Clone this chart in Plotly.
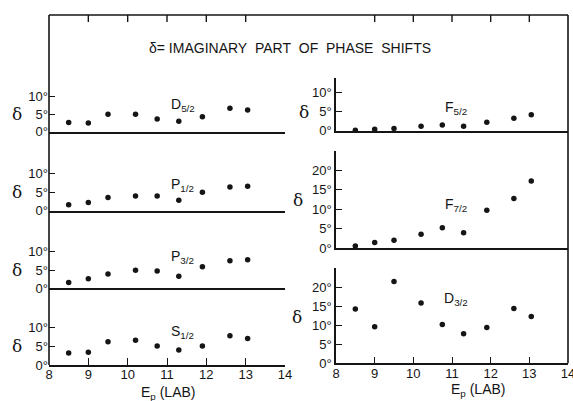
import plotly.graph_objects as go

W, H = 573, 401

# Proton lab energy (MeV) at which the phase shifts were evaluated
energy = [8.5, 9.0, 9.5, 10.2, 10.75, 11.3, 11.9, 12.6, 13.05]

# Imaginary part of the phase shift (degrees) for each partial wave
d52 = [2.6, 2.5, 5.0, 5.0, 3.6, 3.0, 4.3, 6.7, 6.2]
p12 = [1.6, 2.2, 3.6, 4.0, 4.0, 2.8, 5.0, 6.4, 6.6]
p32 = [1.6, 2.6, 3.9, 4.9, 4.7, 3.3, 5.9, 7.5, 7.8]
s12 = [3.2, 3.4, 6.2, 6.6, 5.1, 4.0, 5.1, 7.8, 7.1]
f52 = [0.1, 0.4, 0.6, 1.2, 1.5, 1.2, 2.2, 3.3, 4.2]
f72 = [0.5, 1.4, 2.0, 3.5, 5.2, 3.9, 9.7, 12.7, 17.2]
d32 = [14.3, 9.6, 21.5, 15.9, 10.2, 7.8, 9.4, 14.4, 12.3]

wave_labels = ["D<sub>5/2</sub>", "P<sub>1/2</sub>", "P<sub>3/2</sub>", "S<sub>1/2</sub>",
               "F<sub>5/2</sub>", "F<sub>7/2</sub>", "D<sub>3/2</sub>"]
x_ticks = [8, 9, 10, 11, 12, 13, 14]
small_ticks = [0, 5, 10]
large_ticks = [0, 5, 10, 15, 20]

INK = "#151515"
FONT = "Liberation Sans, Arial, sans-serif"

# panel layout: (values, column, zero-line pixel row, pixels per degree, y max,
#                y ticks, label position (E, deg), delta-symbol position (px x, deg))
panels = [
    (d52, "L", 131.7, 3.50, 12, small_ticks, (11.4, 7.7), (17, 5)),
    (p12, "L", 210.7, 3.70, 12, small_ticks, (11.4, 7.0), (17, 5)),
    (p32, "L", 288.3, 3.66, 12, small_ticks, (11.4, 8.6), (17, 5)),
    (s12, "L", 365.0, 3.75, 12, small_ticks, (11.4, 8.8), (17, 5)),
    (f52, "R", 130.7, 3.80, 14, small_ticks, (11.1, 6.1), (304, 5)),
    (f72, "R", 248.0, 3.90, 25, large_ticks, (11.1, 11.1), (298, 12.3)),
    (d32, "R", 363.3, 3.80, 25, large_ticks, (11.1, 16.8), (297, 12.2)),
]

X_LEFT = (49, 285)
X_RIGHT = (336, 568)
TOP_PX = 15


def px_x(p):
    return p / W


def px_y(p):
    return 1 - p / H


fig = go.Figure()
annotations = []
shapes = []

for i, (vals, col, zero, scale, ymax, yt, lab, dlt) in enumerate(panels, start=1):
    xa = "x" if i == 1 else f"x{i}"
    ya = "y" if i == 1 else f"y{i}"
    xkey = "xaxis" if i == 1 else f"xaxis{i}"
    ykey = "yaxis" if i == 1 else f"yaxis{i}"
    xr = X_LEFT if col == "L" else X_RIGHT
    bottom = i in (4, 7)

    fig.add_trace(go.Scatter(
        x=energy, y=vals, mode="markers", xaxis=xa, yaxis=ya,
        marker=dict(color=INK, size=5.5), showlegend=False, cliponaxis=False,
    ))

    fig.update_layout(**{
        xkey: dict(
            domain=[px_x(xr[0]), px_x(xr[1])], range=[8, 14], anchor=ya,
            showline=True, linecolor=INK, linewidth=1.6, showgrid=False, zeroline=False,
            tickmode="array", tickvals=x_ticks if bottom else [],
            ticks="inside" if bottom else "", ticklen=7, tickwidth=1.4, tickcolor=INK,
            showticklabels=bottom, ticklabelstandoff=-3, ticklabeloverflow="allow",
            tickfont=dict(family=FONT, size=13, color=INK), automargin=False,
        ),
        ykey: dict(
            domain=[px_y(zero), px_y(zero - ymax * scale)], range=[0, ymax], anchor=xa,
            showline=(col == "R"), linecolor=INK, linewidth=1.6, showgrid=False, zeroline=False,
            tickmode="array", tickvals=yt, ticktext=[f"{t}°" for t in yt],
            ticks="inside", ticklen=6, tickwidth=1.4, tickcolor=INK,
            ticklabeloverflow="allow",
            tickfont=dict(family=FONT, size=13, color=INK), automargin=False,
        ),
    })

    annotations.append(dict(
        x=lab[0], y=lab[1], xref=xa, yref=ya, text=wave_labels[i - 1], showarrow=False,
        font=dict(family=FONT, size=14, color=INK), xanchor="center", yanchor="middle",
    ))
    annotations.append(dict(
        x=px_x(dlt[0]), y=dlt[1], xref="paper", yref=ya, text="δ", showarrow=False,
        font=dict(family="DejaVu Serif, serif", size=17, color=INK),
        xanchor="center", yanchor="middle",
    ))

    # ticks hanging from the common top border
    if i in (1, 5):
        for t in x_ticks[1:-1]:
            shapes.append(dict(
                type="line", xref=xa, yref="paper", x0=t, x1=t,
                y0=px_y(TOP_PX), y1=px_y(TOP_PX + 7), line=dict(color=INK, width=1.4),
            ))

# outer border: top, left and right edges
shapes += [
    dict(type="line", xref="paper", yref="paper", x0=px_x(X_LEFT[0]), x1=px_x(X_RIGHT[1]),
         y0=px_y(TOP_PX), y1=px_y(TOP_PX), line=dict(color=INK, width=1.6)),
    dict(type="line", xref="paper", yref="paper", x0=px_x(X_LEFT[0]), x1=px_x(X_LEFT[0]),
         y0=px_y(TOP_PX), y1=px_y(365.0), line=dict(color=INK, width=1.6)),
    dict(type="line", xref="paper", yref="paper", x0=px_x(X_RIGHT[1]), x1=px_x(X_RIGHT[1]),
         y0=px_y(TOP_PX), y1=px_y(363.3), line=dict(color=INK, width=1.6)),
]

annotations += [
    dict(x=px_x(290), y=px_y(48), xref="paper", yref="paper", showarrow=False,
         text="δ=\u00a0IMAGINARY\u00a0\u00a0PART\u00a0\u00a0OF\u00a0\u00a0PHASE\u00a0\u00a0SHIFTS",
         font=dict(family=FONT, size=14, color=INK), xanchor="center", yanchor="middle"),
    dict(x=px_x(168), y=px_y(393), xref="paper", yref="paper", showarrow=False,
         text="E<sub>p</sub> (LAB)", font=dict(family=FONT, size=14, color=INK),
         xanchor="center", yanchor="middle"),
    dict(x=px_x(478), y=px_y(390), xref="paper", yref="paper", showarrow=False,
         text="E<sub>p</sub> (LAB)", font=dict(family=FONT, size=14, color=INK),
         xanchor="center", yanchor="middle"),
]

fig.update_layout(
    width=W, height=H, margin=dict(l=0, r=0, t=0, b=0, autoexpand=False),
    paper_bgcolor="white", plot_bgcolor="white",
    annotations=annotations, shapes=shapes, showlegend=False,
)

fig.write_html("out.html")
